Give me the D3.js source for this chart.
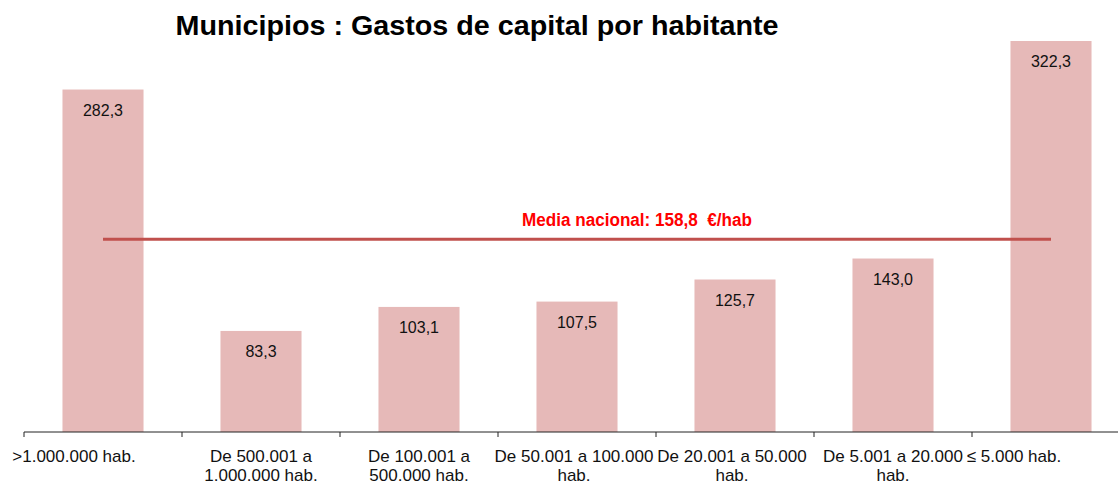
<!DOCTYPE html>
<html>
<head>
<meta charset="utf-8">
<script src="https://cdn.jsdelivr.net/npm/d3@7"></script>
<style>
  body { margin: 0; background: #fff; }
  svg { display: block; font-family: "Liberation Sans", Arial, sans-serif; }
</style>
</head>
<body>
<div id="chart"></div>
<script>
const categories = ['>1.000.000 hab.', 'De 500.001 a 1.000.000 hab.', 'De 100.001 a 500.000 hab.',
  'De 50.001 a 100.000 hab.', 'De 20.001 a 50.000 hab.', 'De 5.001 a 20.000 hab.', '\u2264 5.000 hab.'];
const values = [282.3, 83.3, 103.1, 107.5, 125.7, 143.0, 322.3];
const mediaNacional = 158.8;
const titleText = 'Municipios : Gastos de capital por habitante';
const mediaLabel = 'Media nacional: 158,8  \u20ac/hab';

const width = 1118;
const height = 484;
const margin = {top: 41, left: 24, bottom: 52};
const bandW = 158;

const fmt = d => d.toFixed(1).replace('.', ',');

const svg = d3.select('#chart').append('svg')
  .attr('width', width)
  .attr('height', height);

const xScale = d3.scaleBand()
  .domain(categories)
  .range([margin.left, margin.left + bandW * categories.length])
  .paddingInner(0.487)
  .paddingOuter(0.2435);

const yScale = d3.scaleLinear()
  .domain([0, d3.max(values)])
  .range([height - margin.bottom, margin.top]);

// title
svg.append('text')
  .attr('x', 477)
  .attr('y', 35)
  .attr('text-anchor', 'middle')
  .attr('font-size', 27)
  .attr('font-weight', 'bold')
  .attr('textLength', 603)
  .attr('lengthAdjust', 'spacingAndGlyphs')
  .text(titleText);

// bars
svg.selectAll('.bar')
    .data(values)
  .enter().append('rect')
    .attr('class', 'bar')
    .attr('x', (d, i) => xScale(categories[i]))
    .attr('y', d => yScale(d))
    .attr('width', xScale.bandwidth())
    .attr('height', d => yScale(0) - yScale(d))
    .style('fill', '#e6b9b8');

svg.selectAll('.val')
    .data(values)
  .enter().append('text')
    .attr('class', 'val')
    .attr('x', (d, i) => xScale(categories[i]) + xScale.bandwidth() / 2)
    .attr('y', d => yScale(d) + 26)
    .attr('text-anchor', 'middle')
    .attr('font-size', 16)
    .style('fill', '#111')
    .text(fmt);

// mean line
const cx0 = xScale(categories[0]) + xScale.bandwidth() / 2;
const cx1 = xScale(categories[categories.length - 1]) + xScale.bandwidth() / 2;
svg.append('line')
  .attr('x1', cx0)
  .attr('x2', cx1)
  .attr('y1', yScale(mediaNacional))
  .attr('y2', yScale(mediaNacional))
  .style('stroke', '#c0504d')
  .style('stroke-width', 3);

svg.append('text')
  .attr('x', 637)
  .attr('y', yScale(mediaNacional) - 13)
  .attr('text-anchor', 'middle')
  .attr('font-size', 18)
  .attr('font-weight', 'bold')
  .attr('textLength', 230)
  .attr('lengthAdjust', 'spacingAndGlyphs')
  .style('white-space', 'pre')
  .style('fill', '#ff0000')
  .text(mediaLabel);

// x axis
const axisG = svg.append('g')
  .attr('transform', 'translate(0,' + yScale(0) + ')');

axisG.append('line')
  .attr('x1', margin.left)
  .attr('x2', width)
  .style('stroke', '#222')
  .style('stroke-width', 1);

axisG.selectAll('.tick')
    .data(categories)
  .enter().append('line')
    .attr('class', 'tick')
    .attr('x1', d => xScale(d) - xScale.step() * xScale.paddingOuter())
    .attr('x2', d => xScale(d) - xScale.step() * xScale.paddingOuter())
    .attr('y1', 0)
    .attr('y2', 5)
    .style('stroke', '#222');

function wrapLines(text, maxW, size) {
  const ctx = document.createElement('canvas').getContext('2d');
  ctx.font = size + 'px "Liberation Sans", Arial, sans-serif';
  const words = text.split(' ');
  const lines = [];
  let cur = '';
  words.forEach(w => {
    const t = cur ? cur + ' ' + w : w;
    if (ctx.measureText(t).width > maxW && cur) { lines.push(cur); cur = w; }
    else cur = t;
  });
  lines.push(cur);
  return lines;
}

const labelShift = [-29, 0, 0, -3, -3, 0, -37];
axisG.selectAll('.cat')
    .data(categories)
  .enter().append('text')
    .attr('class', 'cat')
    .attr('text-anchor', 'middle')
    .attr('font-size', 17)
    .style('fill', '#111')
    .each(function(d, i) {
      const cx = xScale(d) + xScale.bandwidth() / 2 + labelShift[i];
      const lines = wrapLines(d, 162, 17);
      d3.select(this).selectAll('tspan')
          .data(lines)
        .enter().append('tspan')
          .attr('x', cx)
          .attr('y', (l, j) => 30 + j * 19)
          .text(l => l);
    });
</script>
</body>
</html>
